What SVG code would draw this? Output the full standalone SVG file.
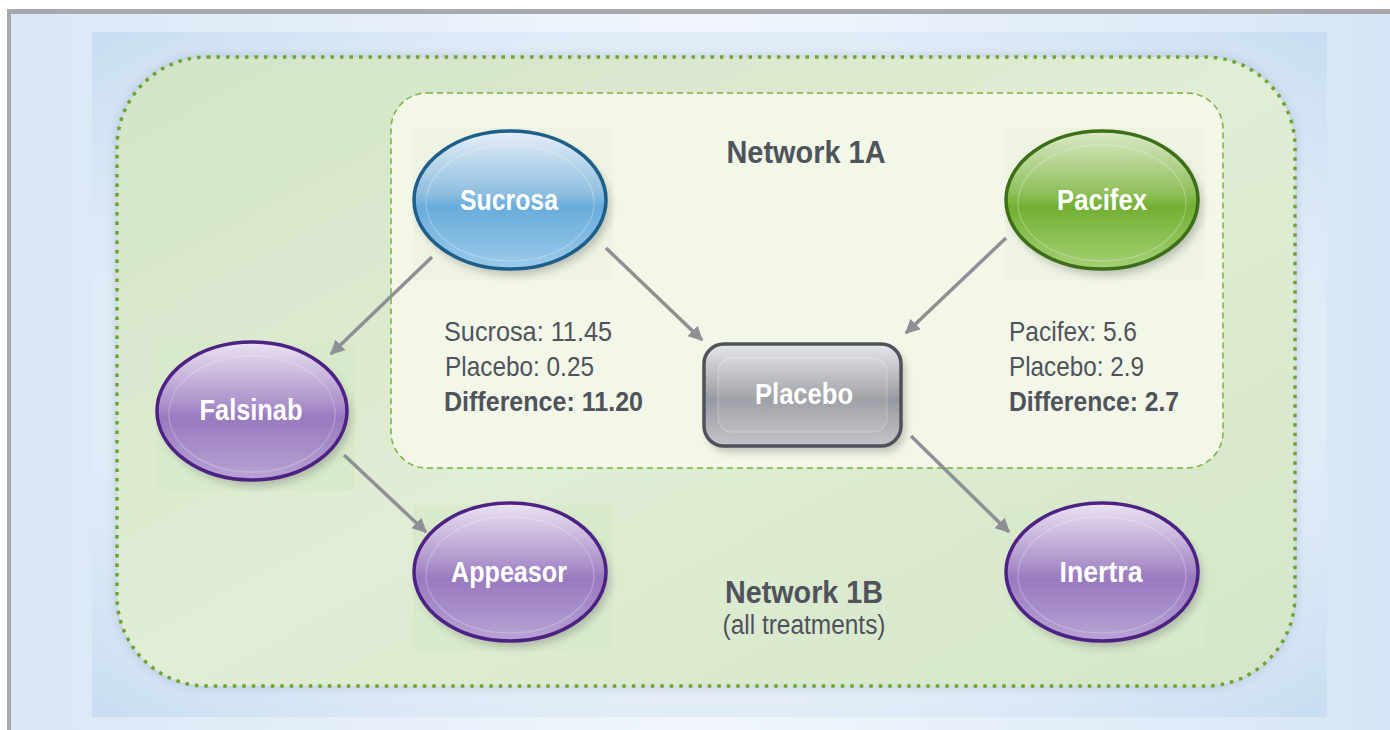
<svg xmlns="http://www.w3.org/2000/svg" width="1390" height="730" viewBox="0 0 1390 730">
<defs>
  <linearGradient id="bgOuter" x1="0" y1="0" x2="1" y2="0">
    <stop offset="0" stop-color="#d9e7f6"/>
    <stop offset="0.5" stop-color="#f1f6fc"/>
    <stop offset="1" stop-color="#d6e6f6"/>
  </linearGradient>
  <radialGradient id="bgInner" cx="0.5" cy="0.5" r="0.75">
    <stop offset="0" stop-color="#f3f7fc"/>
    <stop offset="0.6" stop-color="#e6eff9"/>
    <stop offset="1" stop-color="#c3daf1"/>
  </radialGradient>
  <linearGradient id="greenFill" x1="0" y1="0" x2="1" y2="1">
    <stop offset="0" stop-color="#d2e4c8"/>
    <stop offset="0.5" stop-color="#e1edd4"/>
    <stop offset="1" stop-color="#d4e6c9"/>
  </linearGradient>
  <filter id="blurShadow" x="-10%" y="-10%" width="120%" height="120%">
    <feGaussianBlur stdDeviation="6"/>
  </filter>
  <filter id="nodeShadow" x="-20%" y="-20%" width="150%" height="150%">
    <feGaussianBlur stdDeviation="4"/>
  </filter>
  <linearGradient id="gBlue" x1="0" y1="0" x2="0" y2="1">
    <stop offset="0" stop-color="#e6eff7"/>
    <stop offset="0.45" stop-color="#8fbfe0"/>
    <stop offset="0.55" stop-color="#68acdb"/>
    <stop offset="1" stop-color="#9ccbe9"/>
  </linearGradient>
  <linearGradient id="gGreen" x1="0" y1="0" x2="0" y2="1">
    <stop offset="0" stop-color="#dbe9c8"/>
    <stop offset="0.45" stop-color="#8fc05a"/>
    <stop offset="0.55" stop-color="#72b033"/>
    <stop offset="1" stop-color="#a6d075"/>
  </linearGradient>
  <linearGradient id="gPurple" x1="0" y1="0" x2="0" y2="1">
    <stop offset="0" stop-color="#ebe3f2"/>
    <stop offset="0.45" stop-color="#ab90cb"/>
    <stop offset="0.55" stop-color="#987abf"/>
    <stop offset="1" stop-color="#b9a3d4"/>
  </linearGradient>
  <linearGradient id="gGray" x1="0" y1="0" x2="0" y2="1">
    <stop offset="0" stop-color="#e6e7ea"/>
    <stop offset="0.45" stop-color="#a6a8ae"/>
    <stop offset="0.55" stop-color="#989aa1"/>
    <stop offset="1" stop-color="#c4c5ca"/>
  </linearGradient>
  <marker id="arr" viewBox="0 0 10 10" refX="9" refY="5" markerWidth="4.2" markerHeight="4.2" orient="auto" markerUnits="strokeWidth">
    <path d="M0,0 L10,5 L0,10 z" fill="#8e9096"/>
  </marker>
  <style>
    .txt { font-family: "Liberation Sans", Arial, sans-serif; fill: #4f535c; }
    .lbl { font-family: "Liberation Sans", Arial, sans-serif; font-weight: bold; font-size: 29px; fill: #ffffff; text-anchor: middle; }
    .head { font-weight: bold; font-size: 31px; text-anchor: middle; }
    .stat { font-size: 28px; }
    .b { font-weight: bold; }
    .conn { stroke: #8e9096; stroke-width: 3.5; fill: none; marker-end: url(#arr); }
    .rim { fill: none; stroke: #ffffff; stroke-opacity: 0.22; stroke-width: 1.5; }
    .shadow { fill: #5a6060; opacity: 0.35; filter: url(#nodeShadow); }
  </style>
</defs>

<!-- frame / background -->
<rect x="0" y="0" width="1390" height="730" fill="#ffffff"/>
<rect x="7" y="9" width="1383" height="721" fill="#a6a8ab"/>
<rect x="11" y="14" width="1379" height="716" fill="url(#bgOuter)"/>
<rect x="92" y="32" width="1235" height="685" fill="url(#bgInner)"/>

<!-- Network 1B container -->
<g id="network-1b">
  <rect x="117" y="57" width="1178" height="629" rx="90" ry="90" fill="#8a9aa8" opacity="0.45" filter="url(#blurShadow)"/>
  <rect x="117" y="57" width="1178" height="629" rx="90" ry="90" fill="url(#greenFill)" stroke="#6aa532" stroke-width="3.5" stroke-dasharray="3.5 6"/>
</g>

<!-- Network 1A container -->
<g id="network-1a">
  <rect x="391" y="93" width="832" height="375" rx="36" ry="36" fill="#f3f7e7" stroke="#7ab040" stroke-width="1.5" stroke-dasharray="6 4"/>
</g>

<!-- node backdrop patches -->
<rect x="413" y="128" width="200" height="152" fill="#eef3e2"/>
<rect x="1005" y="128" width="200" height="152" fill="#eef3e2"/>
<rect x="155" y="342" width="200" height="148" fill="#d9eacb"/>
<rect x="413" y="505" width="200" height="145" fill="#d9eacb"/>
<rect x="1005" y="505" width="200" height="145" fill="#d9eacb"/>

<!-- connectors -->
<g id="connectors">
  <line class="conn" x1="432" y1="257" x2="331" y2="354"/>
  <line class="conn" x1="606" y1="248" x2="702" y2="340"/>
  <line class="conn" x1="1006" y1="238" x2="906" y2="333"/>
  <line class="conn" x1="344" y1="455" x2="426" y2="532"/>
  <line class="conn" x1="911" y1="436" x2="1009" y2="532"/>
</g>

<!-- nodes -->
<g id="node-sucrosa">
  <ellipse class="shadow" cx="514" cy="206" rx="96" ry="69"/>
  <ellipse cx="510" cy="200" rx="96" ry="69" fill="url(#gBlue)" stroke="#1d5f8a" stroke-width="3.5"/>
  <ellipse class="rim" cx="510" cy="203" rx="84" ry="58"/>
  <text class="lbl" x="509" y="210" textLength="98" lengthAdjust="spacingAndGlyphs">Sucrosa</text>
</g>

<g id="node-pacifex">
  <ellipse class="shadow" cx="1106" cy="206" rx="96" ry="69"/>
  <ellipse cx="1102" cy="200" rx="96" ry="69" fill="url(#gGreen)" stroke="#3d6f18" stroke-width="3.5"/>
  <ellipse class="rim" cx="1102" cy="203" rx="84" ry="58"/>
  <text class="lbl" x="1102" y="210" textLength="90" lengthAdjust="spacingAndGlyphs">Pacifex</text>
</g>

<g id="node-placebo">
  <rect class="shadow" x="708" y="350" width="197" height="102" rx="20"/>
  <rect x="704" y="344" width="197" height="102" rx="20" fill="url(#gGray)" stroke="#4e525a" stroke-width="3.5"/>
  <rect x="718" y="358" width="169" height="74" rx="14" fill="#ffffff" fill-opacity="0.08" stroke="#ffffff" stroke-opacity="0.2" stroke-width="1.5"/>
  <text class="lbl" x="804" y="404" textLength="98" lengthAdjust="spacingAndGlyphs">Placebo</text>
</g>

<g id="node-falsinab">
  <ellipse class="shadow" cx="256" cy="417" rx="95" ry="69"/>
  <ellipse cx="252" cy="411" rx="95" ry="69" fill="url(#gPurple)" stroke="#4e2284" stroke-width="3.5"/>
  <ellipse class="rim" cx="252" cy="414" rx="83" ry="58"/>
  <text class="lbl" x="251" y="420" textLength="103" lengthAdjust="spacingAndGlyphs">Falsinab</text>
</g>

<g id="node-appeasor">
  <ellipse class="shadow" cx="514" cy="578" rx="96" ry="69"/>
  <ellipse cx="510" cy="572" rx="96" ry="69" fill="url(#gPurple)" stroke="#4e2284" stroke-width="3.5"/>
  <ellipse class="rim" cx="510" cy="575" rx="84" ry="58"/>
  <text class="lbl" x="509" y="582" textLength="116" lengthAdjust="spacingAndGlyphs">Appeasor</text>
</g>

<g id="node-inertra">
  <ellipse class="shadow" cx="1106" cy="578" rx="96" ry="69"/>
  <ellipse cx="1102" cy="572" rx="96" ry="69" fill="url(#gPurple)" stroke="#4e2284" stroke-width="3.5"/>
  <ellipse class="rim" cx="1102" cy="575" rx="84" ry="58"/>
  <text class="lbl" x="1101" y="582" textLength="83" lengthAdjust="spacingAndGlyphs">Inertra</text>
</g>

<!-- labels -->
<g id="labels">
  <text class="txt head" x="806" y="163" textLength="159" lengthAdjust="spacingAndGlyphs">Network 1A</text>
  <text class="txt stat" x="444" y="341" textLength="168" lengthAdjust="spacingAndGlyphs">Sucrosa: 11.45</text>
  <text class="txt stat" x="445" y="376" textLength="149" lengthAdjust="spacingAndGlyphs">Placebo: 0.25</text>
  <text class="txt stat b" x="444" y="411" textLength="199" lengthAdjust="spacingAndGlyphs">Difference: 11.20</text>
  <text class="txt stat" x="1009" y="341" textLength="128" lengthAdjust="spacingAndGlyphs">Pacifex: 5.6</text>
  <text class="txt stat" x="1009" y="376" textLength="135" lengthAdjust="spacingAndGlyphs">Placebo: 2.9</text>
  <text class="txt stat b" x="1009" y="411" textLength="170" lengthAdjust="spacingAndGlyphs">Difference: 2.7</text>
  <text class="txt head" x="804" y="603" textLength="158" lengthAdjust="spacingAndGlyphs">Network 1B</text>
  <text class="txt" x="804" y="634" font-size="27" text-anchor="middle" textLength="163" lengthAdjust="spacingAndGlyphs">(all treatments)</text>
</g>
</svg>
